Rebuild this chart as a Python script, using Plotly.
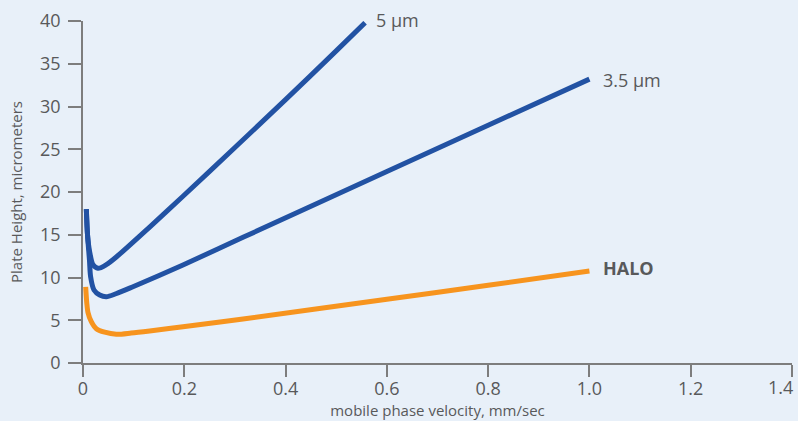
import plotly.graph_objects as go

# mobile phase velocity (mm/sec) and plate height (micrometers)
x_5um = [0.0066, 0.0089, 0.0132, 0.0197, 0.0296, 0.0460, 0.0658, 0.1316, 0.1974, 0.3000, 0.4000, 0.5000, 0.557]
y_5um = [18.0, 15.0, 13.0, 11.5, 11.07, 11.5, 12.4, 15.9, 19.5, 25.2, 30.8, 36.5, 39.8]

x_35um = [0.0066, 0.0089, 0.0128, 0.0150, 0.0217, 0.0330, 0.0460, 0.0650, 0.0987, 0.1974, 0.3160, 0.6000, 0.8000, 1.0000]
y_35um = [18.0, 15.0, 12.0, 10.1, 8.54, 7.95, 7.75, 8.1, 8.92, 11.46, 14.7, 22.4, 27.8, 33.2]

x_halo = [0.0053, 0.0075, 0.0099, 0.0164, 0.0263, 0.0428, 0.0658, 0.0950, 0.1316, 0.1974, 0.3160, 0.6000, 0.8000, 1.0000]
y_halo = [8.9, 7.0, 5.9, 4.83, 4.0, 3.6, 3.36, 3.5, 3.75, 4.25, 5.15, 7.45, 9.1, 10.75]

x_ticks = [0, 0.2, 0.4, 0.6, 0.8, 1.0, 1.2, 1.4]
x_ticktext = ["0", "0.2", "0.4", "0.6", "0.8", "1.0", "1.2", "1.4"]
y_ticks = [0, 5, 10, 15, 20, 25, 30, 35, 40]

labels = ["5 µm", "3.5 µm", "HALO"]
label_x = [0.5745, 1.0227, 1.0227]
label_y = [40.1, 33.1, 11.1]

BLUE = "#2252a3"
ORANGE = "#f7941e"
TEXT = "#58595b"
AXIS = "#7d7d7d"
BG = "#e8f0f9"
FONT = "'Open Sans', Lato, sans-serif"

fig = go.Figure()
for xs, ys, c in [(x_5um, y_5um, BLUE), (x_35um, y_35um, BLUE), (x_halo, y_halo, ORANGE)]:
    fig.add_trace(go.Scatter(x=xs, y=ys, mode="lines",
                             line=dict(color=c, width=5, shape="spline", smoothing=0.8),
                             showlegend=False, hoverinfo="skip"))

X0, X1 = 0, 1.4
Y0, Y1 = 0, 40
for t, ax_, ay_ in zip(labels, label_x, label_y):
    bold = t == "HALO"
    fig.add_annotation(x=(ax_ - X0) / (X1 - X0), y=(ay_ - Y0) / (Y1 - Y0), xref="paper", yref="paper",
                       text=f"<b>{t}</b>" if bold else t, showarrow=False,
                       xanchor="left", yanchor="middle",
                       font=dict(family=FONT, size=18, color=TEXT))

# last x tick label drawn as text so it stays inside the picture
fig.add_annotation(x=1.0045, y=-0.070, xref="paper", yref="paper", text=x_ticktext[-1],
                   showarrow=False, xanchor="right", yanchor="middle",
                   font=dict(family=FONT, size=18, color=TEXT))

fig.update_layout(
    width=798, height=421,
    margin=dict(l=83, r=6, t=21, b=58),
    paper_bgcolor=BG, plot_bgcolor=BG,
    font=dict(family=FONT, color=TEXT),
    xaxis=dict(range=[X0, X1], tickvals=x_ticks,
               ticktext=x_ticktext[:-1] + [""],
               showgrid=False, zeroline=False, showline=True, linecolor=AXIS, linewidth=1.5,
               ticks="outside", ticklen=12, tickwidth=1.5, tickcolor=AXIS, automargin=False,
               ticklabelstandoff=-3,
               tickfont=dict(size=18, color=TEXT),
               title=dict(text="mobile phase velocity, mm/sec", font=dict(size=15, color=TEXT), standoff=6)),
    yaxis=dict(range=[Y0, Y1], tickvals=y_ticks,
               showgrid=False, zeroline=False, showline=True, linecolor=AXIS, linewidth=1.5,
               ticks="outside", ticklen=13, tickwidth=1.5, tickcolor=AXIS, automargin=False,
               ticklabelstandoff=4,
               tickfont=dict(size=18, color=TEXT),
               title=dict(text="Plate Height, micrometers", font=dict(size=15, color=TEXT), standoff=14)),
)
fig.write_html("out.html", config={"displayModeBar": False},
               post_script="document.body.style.margin='0';document.body.style.background='%s';" % BG)
